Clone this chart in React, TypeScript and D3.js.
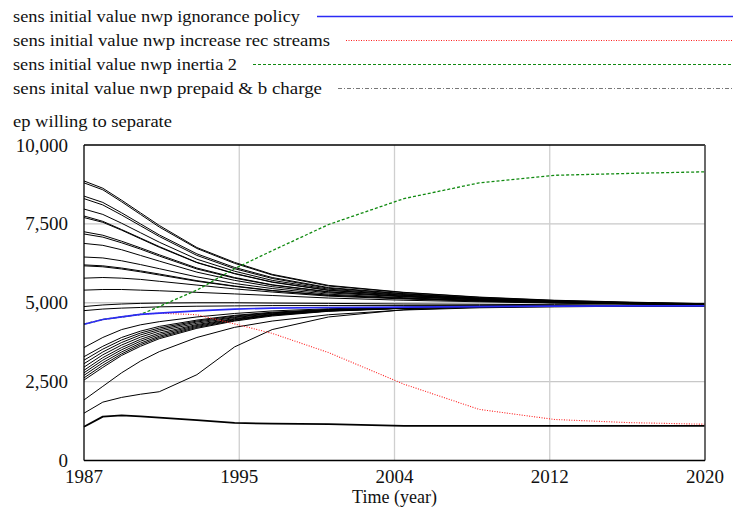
import React from "react";
import * as d3 from "d3";

const years = [1987, 1988, 1989, 1990, 1991, 1993, 1995, 1997, 2000, 2004, 2008, 2012, 2016, 2020];

const ignorancePolicy = [4320, 4470, 4550, 4630, 4670, 4740, 4800, 4830, 4850, 4860, 4880, 4890, 4900, 4900];
const increaseRecStreams = [4320, 4470, 4550, 4630, 4670, 4620, 4330, 4030, 3420, 2420, 1620, 1300, 1200, 1150];
const inertia2 = [4320, 4470, 4550, 4630, 4880, 5400, 6080, 6650, 7480, 8300, 8800, 9040, 9100, 9150];

const sensRuns: number[][] = [
  [8860, 8630, 8250, 7850, 7450, 6750, 6280, 5900, 5550, 5330, 5180, 5080, 5020, 4970],
  [8800, 8580, 8200, 7800, 7400, 6720, 6250, 5880, 5530, 5320, 5170, 5070, 5010, 4970],
  [8380, 8180, 7850, 7500, 7150, 6550, 6120, 5800, 5480, 5290, 5150, 5060, 5000, 4960],
  [8300, 8100, 7780, 7440, 7100, 6500, 6080, 5770, 5460, 5280, 5140, 5050, 5000, 4960],
  [7970, 7800, 7520, 7220, 6920, 6380, 6000, 5710, 5430, 5260, 5130, 5050, 4990, 4950],
  [7750, 7580, 7320, 7050, 6780, 6280, 5930, 5660, 5400, 5240, 5120, 5040, 4990, 4950],
  [7700, 7550, 7300, 7030, 6760, 6270, 5920, 5650, 5390, 5230, 5120, 5040, 4990, 4950],
  [7250, 7140, 6950, 6740, 6520, 6100, 5800, 5570, 5350, 5210, 5100, 5030, 4980, 4950],
  [7180, 7080, 6900, 6700, 6480, 6070, 5780, 5560, 5340, 5200, 5100, 5030, 4980, 4950],
  [6880, 6820, 6680, 6500, 6320, 5970, 5710, 5510, 5310, 5190, 5090, 5020, 4980, 4940],
  [6450, 6420, 6330, 6210, 6080, 5820, 5610, 5450, 5270, 5160, 5070, 5010, 4970, 4940],
  [6200, 6170, 6100, 6010, 5910, 5700, 5530, 5390, 5240, 5140, 5060, 5010, 4970, 4940],
  [6170, 6140, 6070, 5980, 5880, 5680, 5520, 5380, 5230, 5140, 5060, 5000, 4970, 4940],
  [5780, 5800, 5780, 5740, 5680, 5560, 5440, 5340, 5210, 5120, 5050, 5000, 4970, 4940],
  [5400, 5420, 5420, 5400, 5380, 5330, 5280, 5230, 5150, 5080, 5030, 4990, 4960, 4940],
  [4880, 4930, 4960, 4980, 4990, 5000, 5000, 4990, 4980, 4960, 4950, 4940, 4930, 4930],
  [4750, 4800, 4830, 4850, 4870, 4890, 4900, 4910, 4910, 4910, 4910, 4910, 4910, 4910],
  [3580, 3900, 4150, 4300, 4400, 4550, 4660, 4740, 4810, 4860, 4880, 4890, 4900, 4900],
  [3290, 3620, 3900, 4100, 4250, 4450, 4600, 4700, 4790, 4850, 4880, 4890, 4900, 4900],
  [3180, 3530, 3820, 4040, 4200, 4420, 4580, 4680, 4780, 4850, 4880, 4890, 4900, 4900],
  [3070, 3440, 3740, 3980, 4150, 4390, 4550, 4670, 4770, 4840, 4870, 4890, 4900, 4900],
  [2960, 3350, 3660, 3910, 4100, 4350, 4530, 4650, 4760, 4840, 4870, 4890, 4900, 4900],
  [2860, 3260, 3580, 3840, 4040, 4310, 4500, 4630, 4750, 4830, 4870, 4890, 4900, 4900],
  [2780, 3180, 3510, 3780, 3990, 4280, 4480, 4620, 4750, 4830, 4870, 4890, 4900, 4900],
  [2700, 3100, 3440, 3720, 3940, 4250, 4460, 4610, 4740, 4830, 4870, 4890, 4900, 4900],
  [2620, 3020, 3380, 3670, 3900, 4220, 4440, 4600, 4740, 4830, 4870, 4890, 4900, 4900],
  [2550, 2950, 3330, 3620, 3860, 4190, 4420, 4580, 4730, 4820, 4870, 4890, 4900, 4900],
  [1920, 2350, 2780, 3150, 3450, 3900, 4220, 4420, 4620, 4770, 4840, 4870, 4890, 4900],
  [1500, 1850, 2000, 2100, 2180, 2720, 3600, 4150, 4550, 4780, 4860, 4880, 4890, 4900],
  [1070, 1390, 1430, 1400, 1360, 1280, 1190, 1170, 1150, 1100, 1100, 1100, 1100, 1100],
];

const yTicks = [0, 2500, 5000, 7500, 10000];
const xTicks = [1987, 1995.25, 2003.5, 2011.75, 2020];

const legendItems = [
  { label: "sens initial value nwp ignorance policy", color: "#2b2bf5", dash: "", width: 1.6, textLen: 287, lineStart: 317 },
  { label: "sens initial value nwp increase rec streams", color: "#ff2020", dash: "1,1.5", width: 1, textLen: 317, lineStart: 346 },
  { label: "sens initial value nwp inertia 2", color: "#108a10", dash: "3,2", width: 1.2, textLen: 224, lineStart: 253 },
  { label: "sens inital value nwp prepaid & b charge", color: "#555555", dash: "4,2,1,2", width: 0.8, textLen: 309, lineStart: 338 },
];

const serif = { fontFamily: "'Liberation Serif', 'Times New Roman', Times, serif" };

export default function App() {
  const W = 733, H = 513;
  const x = d3.scaleLinear().domain([1987, 2020]).range([84, 705]);
  const y = d3.scaleLinear().domain([0, 10000]).range([460.5, 145]);
  const line = d3
    .line<number>()
    .x((_, i) => x(years[i]))
    .y((d) => y(d));

  return (
    <svg width={W} height={H} style={{ position: "absolute", left: 0, top: 0, background: "#fff" }}>
      <rect x={0} y={0} width={W} height={H} fill="#fff" />
      {legendItems.map((it, i) => {
        const cy = 16.5 + i * 24;
        return (
          <g key={it.label}>
            <text x={13} y={cy + 5.5} fontSize={17.5} style={serif} textLength={it.textLen} lengthAdjust="spacingAndGlyphs" fill="#111">
              {it.label}
            </text>
            <line x1={it.lineStart} x2={733} y1={cy} y2={cy} stroke={it.color} strokeWidth={it.width} strokeDasharray={it.dash} />
          </g>
        );
      })}
      <text x={13} y={126.5} fontSize={17.5} style={serif} textLength={159} lengthAdjust="spacingAndGlyphs" fill="#111">
        ep willing to separate
      </text>

      {yTicks.slice(1, -1).map((t) => (
        <line key={"gy" + t} x1={x(1987)} x2={x(2020)} y1={y(t)} y2={y(t)} stroke="#c8c8c8" strokeWidth={1.3} />
      ))}
      {xTicks.slice(1, -1).map((t) => (
        <line key={"gx" + t} x1={x(t)} x2={x(t)} y1={y(10000)} y2={y(0)} stroke="#cfcfcf" strokeWidth={1.3} />
      ))}

      {sensRuns.map((r, i) => (
        <path key={"s" + i} d={line(r) || ""} fill="none" stroke="#000" strokeWidth={i === sensRuns.length - 1 ? 1.8 : 1} strokeLinejoin="round" />
      ))}
      <path d={line(increaseRecStreams) || ""} fill="none" stroke="#ff2020" strokeWidth={1.1} strokeDasharray="1,1.5" />
      <path d={line(inertia2) || ""} fill="none" stroke="#108a10" strokeWidth={1.3} strokeDasharray="3,2" />
      <path d={line(ignorancePolicy) || ""} fill="none" stroke="#2b2bf5" strokeWidth={1.7} />

      <line x1={x(1987)} x2={x(2020)} y1={y(10000)} y2={y(10000)} stroke="#000" strokeWidth={1.3} />
      <line x1={x(2020)} x2={x(2020)} y1={y(10000)} y2={y(0)} stroke="#444" strokeWidth={1.6} />
      <line x1={x(1987)} x2={x(1987)} y1={y(10000)} y2={y(0)} stroke="#000" strokeWidth={1.3} />
      <line x1={x(1987)} x2={x(2020)} y1={y(0)} y2={y(0)} stroke="#000" strokeWidth={1.3} />

      {yTicks.map((t) => (
        <text key={"yt" + t} x={68} y={y(t) + 6.5} fontSize={19} style={serif} textAnchor="end" fill="#111">
          {d3.format(",")(t)}
        </text>
      ))}
      {xTicks.map((t) => (
        <text key={"xt" + t} x={x(t)} y={483} fontSize={19} style={serif} textAnchor="middle" fill="#111">
          {Math.round(t)}
        </text>
      ))}
      <text x={(x(1987) + x(2020)) / 2} y={503} fontSize={18} style={serif} textAnchor="middle" fill="#111">
        Time (year)
      </text>
    </svg>
  );
}
